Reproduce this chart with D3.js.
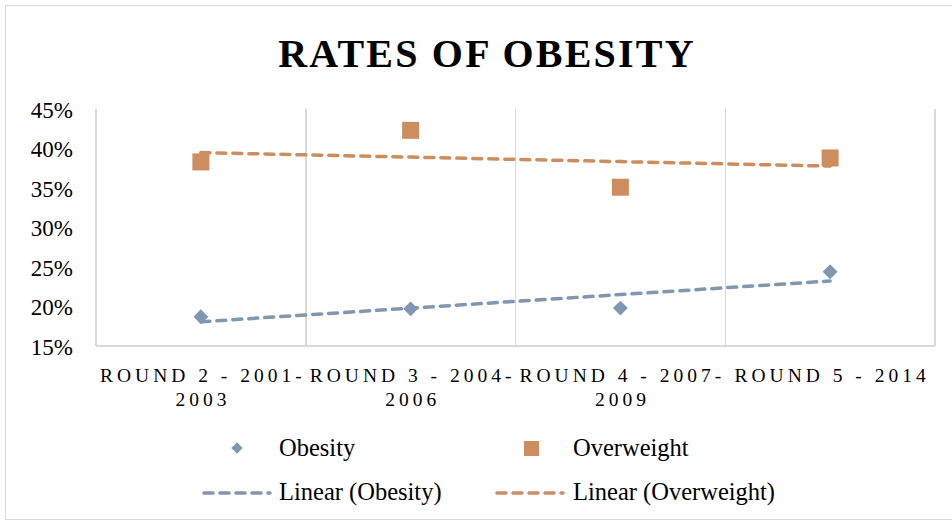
<!DOCTYPE html>
<html>
<head>
<meta charset="utf-8">
<script src="https://cdn.jsdelivr.net/npm/d3@7"></script>
<style>
  body { margin: 0; background: #fff; }
  text { font-family: "Liberation Serif", "DejaVu Serif", serif; fill: #000; }
</style>
</head>
<body>
<svg id="chart" width="952" height="525"></svg>
<script>
var categories = [
  ["ROUND 2 - 2001-", "2003"],
  ["ROUND 3 - 2004-", "2006"],
  ["ROUND 4 - 2007-", "2009"],
  ["ROUND 5 - 2014"]
];
var obesity = [0.187, 0.197, 0.198, 0.244];
var overweight = [0.383, 0.423, 0.351, 0.388];
var yTicks = [0.15, 0.20, 0.25, 0.30, 0.35, 0.40, 0.45];

var blue = "#7f97b1";
var orange = "#cd8d5f";
var grid = "#d9d9d9";

var svg = d3.select("#chart");
var plotLeft = 96, plotRight = 935, plotTop = 109, plotBottom = 346;

// chart border
svg.append("rect")
  .attr("x", 5.5).attr("y", 5.5)
  .attr("width", 960).attr("height", 514)
  .attr("fill", "none").attr("stroke", grid);

svg.append("text")
  .attr("x", 487).attr("y", 67)
  .attr("text-anchor", "middle")
  .style("font-size", "40px").style("font-weight", "bold")
  .style("letter-spacing", "2.2px")
  .text("RATES OF OBESITY");

var x = d3.scaleBand()
  .domain(d3.range(categories.length))
  .range([plotLeft, plotRight]);

var y = d3.scaleLinear()
  .domain([0.15, 0.45])
  .range([plotBottom, plotTop]);

var cx = function (i) { return x(i) + x.bandwidth() / 2; };

// vertical grid between categories
svg.selectAll("line.vertical-grid")
  .data(d3.range(categories.length + 1))
  .enter().append("line")
  .attr("class", "vertical-grid")
  .attr("x1", function (i) { return i < categories.length ? x(i) : plotRight; })
  .attr("x2", function (i) { return i < categories.length ? x(i) : plotRight; })
  .attr("y1", plotTop).attr("y2", plotBottom)
  .attr("stroke", grid).attr("stroke-width", 1.5)
  .attr("shape-rendering", "crispEdges");

svg.append("line")
  .attr("x1", plotLeft).attr("x2", plotRight)
  .attr("y1", plotBottom).attr("y2", plotBottom)
  .attr("stroke", grid).attr("stroke-width", 1.5)
  .attr("shape-rendering", "crispEdges");

// y axis labels
var yAxis = svg.append("g")
  .attr("transform", "translate(" + (plotLeft - 23) + ",0)")
  .call(d3.axisLeft(y).tickValues(yTicks).tickFormat(d3.format(".0%")).tickSize(0));
yAxis.select(".domain").remove();
yAxis.selectAll("text")
  .style("font-size", "23px")
  .style("font-family", "'Liberation Serif', serif")
  .attr("fill", "#000")
  .attr("x", 0).attr("dy", "0.35em");

// x labels
var xl = svg.selectAll("text.xlab")
  .data(categories)
  .enter().append("text")
  .attr("class", "xlab")
  .attr("text-anchor", "middle")
  .style("font-size", "19.5px")
  .style("letter-spacing", "4px");
xl.selectAll("tspan")
  .data(function (d, i) { return d.map(function (s) { return { s: s, i: i }; }); })
  .enter().append("tspan")
  .attr("x", function (d) { return cx(d.i) + 2; })
  .attr("y", function (d, j) { return 382 + j * 24; })
  .text(function (d) { return d.s; });

// linear trend from data
function trend(vals) {
  var xs = vals.map(function (v, i) { return i + 1; });
  var mx = d3.mean(xs), my = d3.mean(vals);
  var num = d3.sum(xs, function (xv, i) { return (xv - mx) * (vals[i] - my); });
  var den = d3.sum(xs, function (xv) { return (xv - mx) * (xv - mx); });
  var b = num / den, a = my - b * mx;
  return xs.map(function (xv) { return a + b * xv; });
}

var line = d3.line()
  .x(function (d, i) { return cx(i); })
  .y(function (d) { return y(d); });

[[obesity, blue], [overweight, orange]].forEach(function (s) {
  svg.append("path")
    .attr("d", line(trend(s[0])))
    .attr("fill", "none").attr("stroke", s[1])
    .attr("stroke-width", 3.5)
    .attr("stroke-dasharray", "9,7")
    .attr("stroke-linecap", "round");
});

var diamond = d3.symbol().type(d3.symbolSquare).size(110);
svg.selectAll("path.ob")
  .data(obesity)
  .enter().append("path")
  .attr("class", "ob")
  .attr("d", diamond)
  .attr("transform", function (d, i) { return "translate(" + cx(i) + "," + y(d) + ") rotate(45)"; })
  .attr("fill", blue);

svg.selectAll("rect.ow")
  .data(overweight)
  .enter().append("rect")
  .attr("class", "ow")
  .attr("x", function (d, i) { return cx(i) - 8.5; })
  .attr("y", function (d) { return y(d) - 8.5; })
  .attr("width", 17).attr("height", 17)
  .attr("fill", orange);

// legend
var lg = svg.append("g");
lg.append("path")
  .attr("d", d3.symbol().type(d3.symbolSquare).size(64)())
  .attr("transform", "translate(237,448) rotate(45)")
  .attr("fill", blue);
lg.append("text").attr("x", 279).attr("y", 456).style("font-size", "24.5px").text("Obesity");
lg.append("rect").attr("x", 524).attr("y", 441).attr("width", 15).attr("height", 15).attr("fill", orange);
lg.append("text").attr("x", 573).attr("y", 456).style("font-size", "24.5px").text("Overweight");

lg.append("line").attr("x1", 204).attr("x2", 270).attr("y1", 493).attr("y2", 493)
  .attr("stroke", blue).attr("stroke-width", 3.5).attr("stroke-dasharray", "9,7").attr("stroke-linecap", "round");
lg.append("text").attr("x", 279).attr("y", 500).style("font-size", "24.5px").text("Linear (Obesity)");
lg.append("line").attr("x1", 497).attr("x2", 563).attr("y1", 493).attr("y2", 493)
  .attr("stroke", orange).attr("stroke-width", 3.5).attr("stroke-dasharray", "9,7").attr("stroke-linecap", "round");
lg.append("text").attr("x", 573).attr("y", 500).style("font-size", "24.5px").text("Linear (Overweight)");
</script>
</body>
</html>
